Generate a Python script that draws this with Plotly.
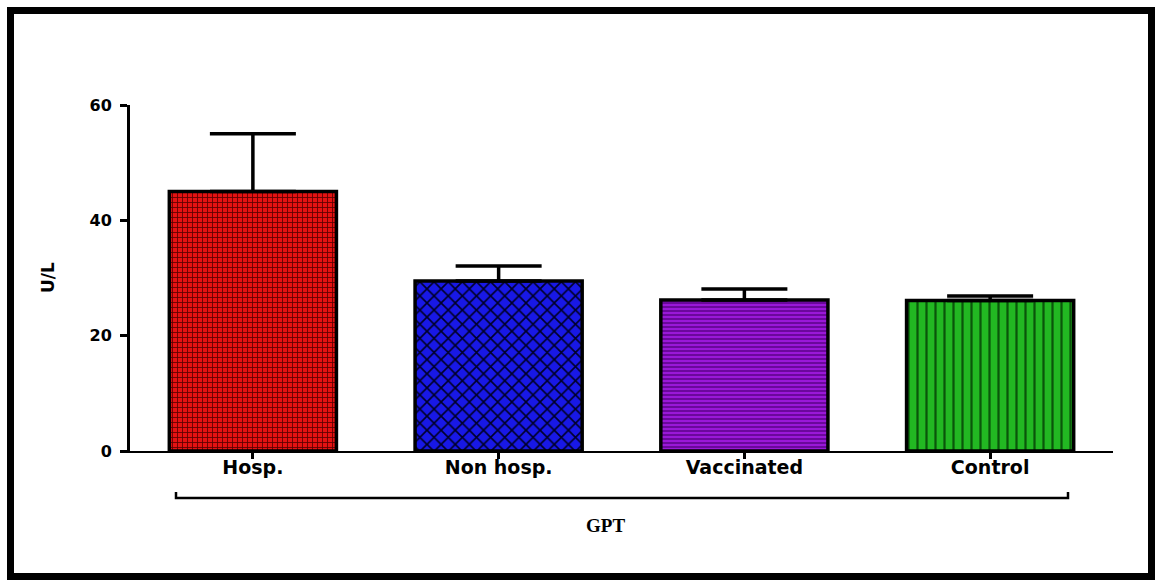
import plotly.graph_objects as go

# GPT activity by group (U/L), mean with upper SEM
groups = ["Hosp.", "Non hosp.", "Vaccinated", "Control"]
means = [45.0, 29.5, 26.2, 26.1]
err_up = [10.0, 2.6, 1.9, 0.8]
y_ticks = [0, 20, 40, 60]

fill_bg = ["#e41212", "#1818e6", "#9a18d8", "#22b822"]
fill_fg = ["#5a0000", "#000028", "#560082", "#0a560a"]
fill_shape = ["+", "x", "-", "|"]
fill_size = [5, 10, 4, 9]
fill_solid = [0.3, 0.3, 0.35, 0.25]

# plot-area box in pixels, used to place frame/bracket/labels
W, H = 1156, 580
L, R, T, B = 130, 1113, 105, 451


def px_x(p):
    return (p - L) / (R - L)


def px_y(p):
    return (B - p) / (B - T)


fig = go.Figure()
for i, g in enumerate(groups):
    fig.add_trace(go.Bar(
        x=[g],
        y=[means[i]],
        width=0.68,
        marker=dict(
            color=fill_bg[i],
            line=dict(color="black", width=3.5),
            pattern=dict(
                shape=fill_shape[i],
                bgcolor=fill_bg[i],
                fgcolor=fill_fg[i],
                fgopacity=1,
                size=fill_size[i],
                solidity=fill_solid[i],
                fillmode="overlay",
            ),
        ),
        error_y=dict(
            type="data",
            symmetric=False,
            array=[err_up[i]],
            arrayminus=[0],
            color="black",
            thickness=3.5,
            width=43,
        ),
        showlegend=False,
    ))

tick_font = dict(family="DejaVu Sans", size=19, color="black", weight="bold")

fig.update_layout(
    width=W,
    height=H,
    margin=dict(l=L, r=W - R, t=T, b=H - B, pad=0),
    paper_bgcolor="white",
    plot_bgcolor="white",
    barmode="overlay",
    xaxis=dict(
        categoryorder="array",
        categoryarray=groups,
        range=[-0.5, 3.5],
        showline=True,
        linecolor="black",
        linewidth=2,
        ticks="outside",
        ticklen=6,
        tickwidth=2.5,
        tickcolor="black",
        tickfont=tick_font,
        ticklabelstandoff=-8,
        showgrid=False,
        zeroline=False,
        fixedrange=True,
    ),
    yaxis=dict(
        range=[0, 60],
        tickvals=y_ticks,
        showline=True,
        linecolor="black",
        linewidth=3,
        ticks="outside",
        ticklen=7,
        tickwidth=2.5,
        tickcolor="black",
        tickfont=dict(family="DejaVu Sans", size=16, color="black", weight="bold"),
        ticklabelstandoff=5,
        showgrid=False,
        zeroline=False,
        fixedrange=True,
    ),
    shapes=[
        # outer frame
        dict(type="rect", xref="paper", yref="paper",
             x0=px_x(10.5), x1=px_x(1151.5), y0=px_y(576.5), y1=px_y(10.5),
             line=dict(color="black", width=7), layer="above"),
        # group bracket under the categories
        dict(type="path", xref="paper", yref="paper",
             path=(f"M {px_x(176)},{px_y(492)} L {px_x(176)},{px_y(498)} "
                   f"L {px_x(1068)},{px_y(498)} L {px_x(1068)},{px_y(492)}"),
             line=dict(color="black", width=2.5)),
    ],
    annotations=[
        dict(text="U/L", xref="paper", yref="paper",
             x=px_x(48), y=px_y(278), textangle=-90, showarrow=False,
             xanchor="center", yanchor="middle",
             font=dict(family="DejaVu Sans", size=17, color="black", weight="bold")),
        dict(text="GPT", xref="paper", yref="paper",
             x=px_x(605), y=px_y(525), showarrow=False,
             xanchor="center", yanchor="middle",
             font=dict(family="Liberation Serif", size=19, color="black", weight="bold")),
    ],
)

fig.write_html("out.html")
